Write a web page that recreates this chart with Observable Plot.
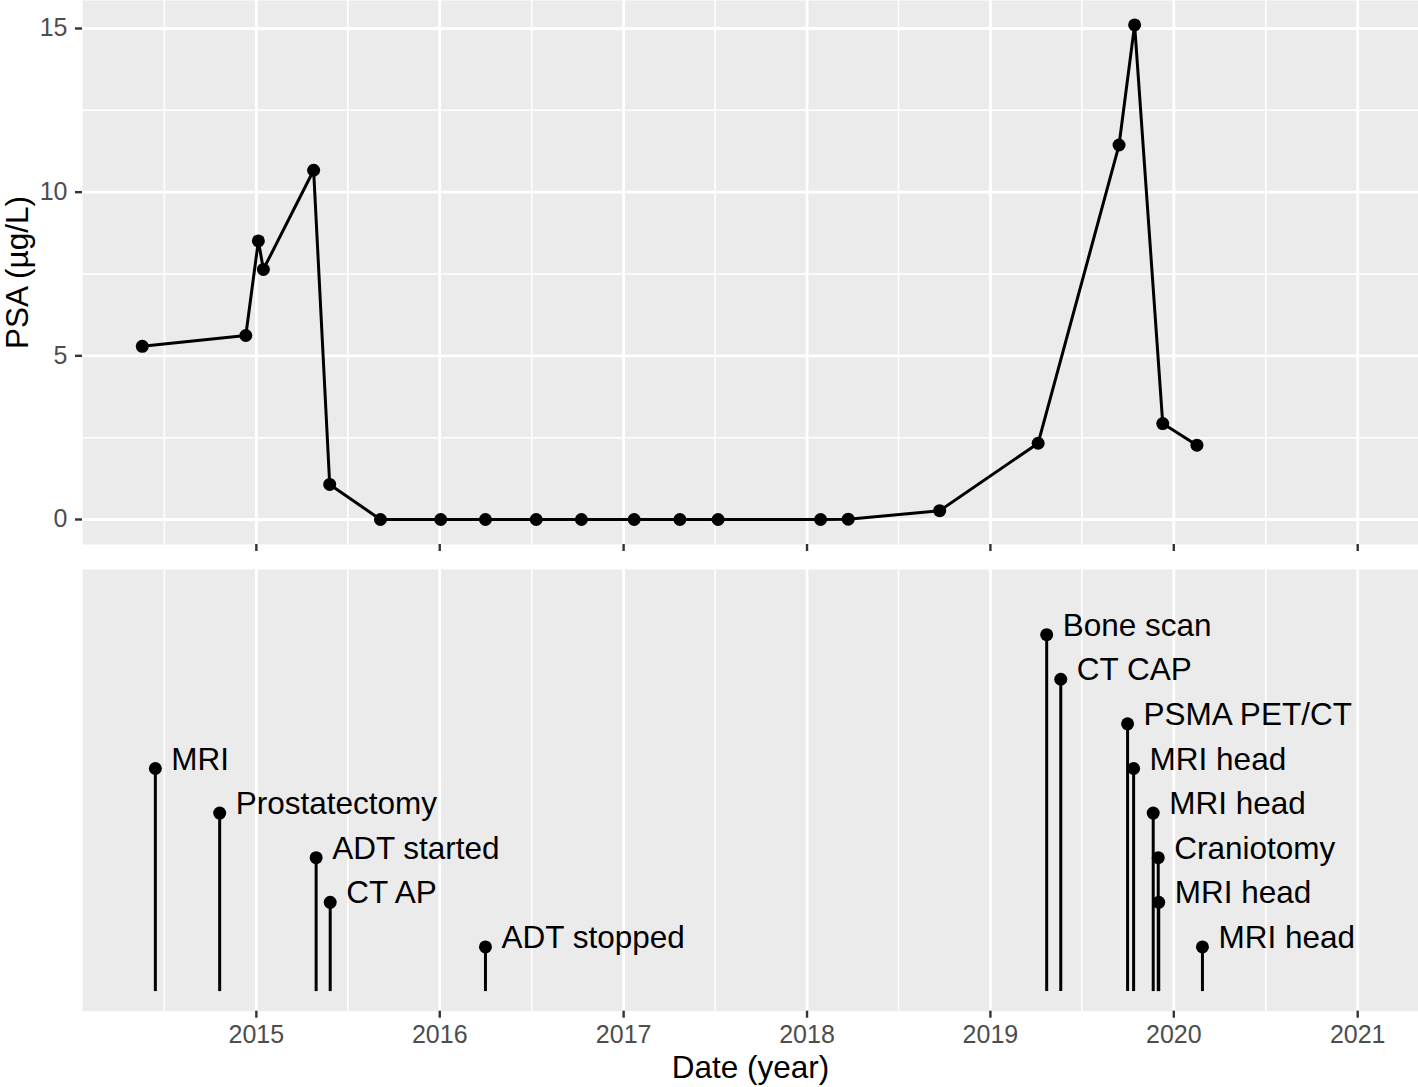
<!DOCTYPE html>
<html>
<head>
<meta charset="utf-8">
<script src="https://cdn.jsdelivr.net/npm/d3@7"></script>
<script src="https://cdn.jsdelivr.net/npm/@observablehq/plot@0.6"></script>
<style>
  html, body { margin: 0; padding: 0; background: white; }
  #chart svg { display: block; }
</style>
</head>
<body>
<div id="chart"></div>
<script>
// ---- Data ----
const psaDates = ["2014-05-19","2014-12-11","2015-01-05","2015-01-15","2015-04-25","2015-05-27","2015-09-05","2016-01-03","2016-04-01","2016-07-11","2016-10-09","2017-01-22","2017-04-23","2017-07-08","2018-01-28","2018-03-24","2018-09-22","2019-04-06","2019-09-14","2019-10-15","2019-12-10","2020-02-16"];
const psaValues = [5.29,5.62,8.51,7.64,10.67,1.07,0,0,0,0,0,0,0,0,0,0.01,0.27,2.33,11.44,15.11,2.93,2.27];

const eventNames = ["MRI","Prostatectomy","ADT started","CT AP","ADT stopped","Bone scan","CT CAP","PSMA PET/CT","MRI head","MRI head","Craniotomy","MRI head","MRI head"];
const eventDates = ["2014-06-14","2014-10-20","2015-04-30","2015-05-28","2016-04-01","2019-04-23","2019-05-21","2019-10-01","2019-10-13","2019-11-21","2019-12-01","2019-12-02","2020-02-27"];
const eventLevels = [5,4,3,2,1,8,7,6,5,4,3,2,1];

const yearTickLabels = ["2015","2016","2017","2018","2019","2020","2021"];
const psaTicks = [0,5,10,15];
const psaMinorTicks = [2.5,7.5,12.5];
const xTitle = "Date (year)";
const yTitle = "PSA (µg/L)";

// ---- Build tables ----
const psa = psaDates.map((d, i) => ({date: new Date(d), value: psaValues[i]}));
const events = eventDates.map((d, i) => ({date: new Date(d), level: eventLevels[i], name: eventNames[i]}));
const yearTicks = yearTickLabels.map(y => new Date(y + "-01-01"));
const minorTicks = ["2014","2015","2016","2017","2018","2019","2020"].map(y => new Date(y + "-07-02"));
const xDomain = [new Date("2014-01-20"), new Date("2021-05-02")];

const FONT = "'Liberation Sans', Arial, Helvetica, sans-serif";
const BG = "#EBEBEB";
const MAJOR = 2.8, MINOR = 1.5;

const topPlot = Plot.plot({
  width: 1418, height: 556,
  marginLeft: 82, marginRight: 0, marginTop: 0, marginBottom: 12,
  style: {fontFamily: FONT, fontSize: "25px", background: "white", overflow: "visible"},
  x: {type: "utc", domain: xDomain},
  y: {domain: [-0.764, 15.855]},
  marks: [
    Plot.frame({fill: BG, stroke: "none"}),
    Plot.gridX(minorTicks, {stroke: "white", strokeOpacity: 1, strokeWidth: MINOR}),
    Plot.gridY(psaMinorTicks, {stroke: "white", strokeOpacity: 1, strokeWidth: MINOR}),
    Plot.gridX(yearTicks, {stroke: "white", strokeOpacity: 1, strokeWidth: MAJOR}),
    Plot.gridY(psaTicks, {stroke: "white", strokeOpacity: 1, strokeWidth: MAJOR}),
    Plot.line(psa, {x: "date", y: "value", stroke: "black", strokeWidth: 3}),
    Plot.dot(psa, {x: "date", y: "value", r: 6.5, fill: "black", stroke: "none"}),
    Plot.axisX(yearTicks, {tickSize: 7, tickFormat: () => "", stroke: "#333333", strokeWidth: 2.4, label: null}),
    Plot.axisY(psaTicks, {tickSize: 7, tickPadding: 8, stroke: "#333333", strokeWidth: 2.4, fill: "#4D4D4D", fontSize: 25, label: null}),
    Plot.text([yTitle], {frameAnchor: "left", dx: -65, rotate: -90, text: d => d, fontSize: 31.5, fill: "black", textAnchor: "middle", lineAnchor: "middle"})
  ]
});

const bottomPlot = Plot.plot({
  width: 1418, height: 531,
  marginLeft: 82, marginRight: 0, marginTop: 13, marginBottom: 76.3,
  style: {fontFamily: FONT, fontSize: "25px", background: "white", overflow: "visible"},
  x: {type: "utc", domain: xDomain},
  y: {domain: [-0.44, 9.46], axis: null},
  marks: [
    Plot.frame({fill: BG, stroke: "none"}),
    Plot.gridX(minorTicks, {stroke: "white", strokeOpacity: 1, strokeWidth: MINOR}),
    Plot.gridX(yearTicks, {stroke: "white", strokeOpacity: 1, strokeWidth: MAJOR}),
    Plot.ruleX(events, {x: "date", y1: 0, y2: "level", stroke: "black", strokeWidth: 3}),
    Plot.dot(events, {x: "date", y: "level", r: 6.5, fill: "black", stroke: "none"}),
    Plot.text(events, {x: "date", y: "level", text: "name", dx: 16, dy: -9, textAnchor: "start", lineAnchor: "middle", fontSize: 31.5, fill: "black"}),
    Plot.axisX(yearTicks, {tickSize: 7, tickPadding: 7, tickFormat: d3.utcFormat("%Y"), stroke: "#333333", strokeWidth: 2.4, fill: "#4D4D4D", fontSize: 25, label: null}),
    Plot.text([xTitle], {frameAnchor: "bottom", dy: 57, text: d => d, fontSize: 31.5, fill: "black", textAnchor: "middle", lineAnchor: "middle"})
  ]
});

const chart = document.getElementById("chart");
chart.appendChild(topPlot);
chart.appendChild(bottomPlot);
</script>
</body>
</html>
